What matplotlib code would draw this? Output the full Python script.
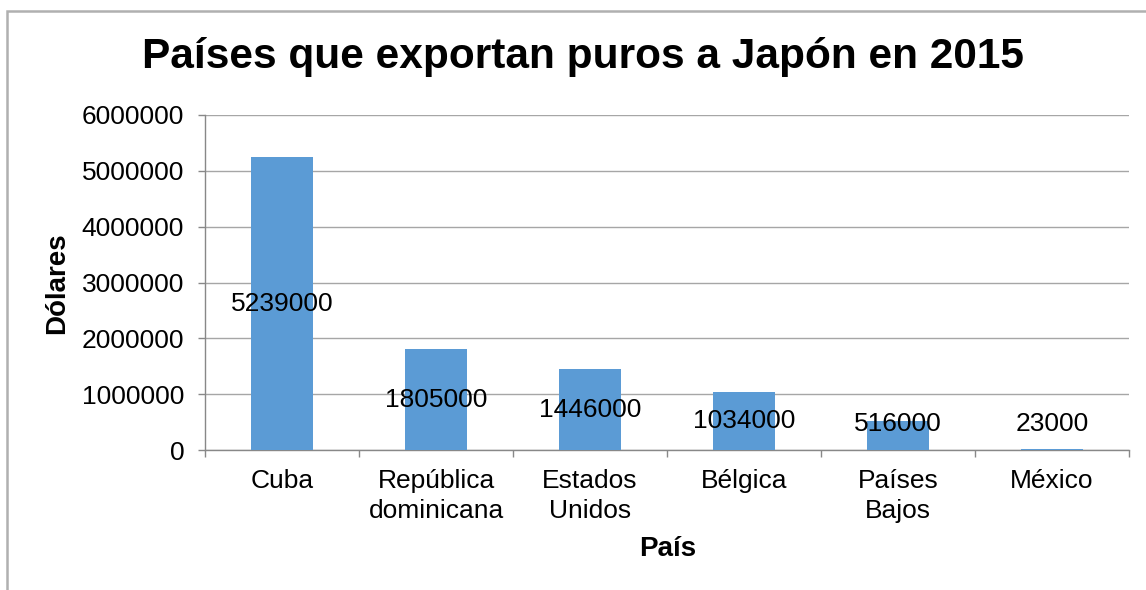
import numpy as np
import matplotlib
matplotlib.use('Agg')
import matplotlib.pyplot as plt
from matplotlib.patches import Rectangle

paises = ['Cuba', 'República\ndominicana', 'Estados\nUnidos', 'Bélgica', 'Países\nBajos', 'México']
dolares = [5239000, 1805000, 1446000, 1034000, 516000, 23000]
yticks = [0, 1000000, 2000000, 3000000, 4000000, 5000000, 6000000]

plt.rcParams['font.family'] = ['Liberation Sans', 'DejaVu Sans']

fig = plt.figure(figsize=(11.46, 5.9), dpi=100)
ax = fig.add_axes([205/1146, 1-450/590, (1129-205)/1146, (450-115)/590])

# outer chart border (Excel style)
fig.patches.append(Rectangle((7/1146, -0.1), 1.2, 1-11/590+0.1, transform=fig.transFigure,
                             fill=False, edgecolor='#b0b0b0', linewidth=1.8, zorder=0))

x = np.arange(len(paises))
ax.bar(x, dolares, width=0.4, color='#5b9bd5', zorder=3)

# data labels centred in the bar, kept above the axis
for xi, v in zip(x, dolares):
    ax.text(xi, max(v/2, 460000), str(v), ha='center', va='center', fontsize=19, zorder=4)

ax.set_xlim(-0.5, len(paises)-0.5)
ax.set_ylim(0, 6000000)
ax.set_yticks(yticks)
ax.set_yticklabels([str(t) for t in yticks], fontsize=19)
ax.set_xticks(x)
ax.set_xticklabels(paises, fontsize=19, linespacing=1.3)
ax.set_xticks(np.arange(-0.5, len(paises), 1), minor=True)
ax.tick_params(axis='x', which='major', length=0, pad=14)
ax.tick_params(axis='x', which='minor', length=5, color='#888888', width=1)
ax.tick_params(axis='y', length=5, color='#888888', width=1, pad=10)

ax.grid(axis='y', color='#a6a6a6', linewidth=1, zorder=0)
for s in ['top', 'right']:
    ax.spines[s].set_visible(False)
for s in ['left', 'bottom']:
    ax.spines[s].set_color('#888888')
    ax.spines[s].set_linewidth(1)

fig.text(583/1146, 1-57/590, 'Países que exportan puros a Japón en 2015',
         ha='center', va='center', fontsize=30.5, fontweight='bold')
fig.text(57/1146, 1-283/590, 'Dólares', ha='center', va='center', rotation=90,
         fontsize=20, fontweight='bold')
fig.text(668/1146, 1-549/590, 'País', ha='center', va='center', fontsize=20, fontweight='bold')

plt.savefig('out.png', dpi=100)
